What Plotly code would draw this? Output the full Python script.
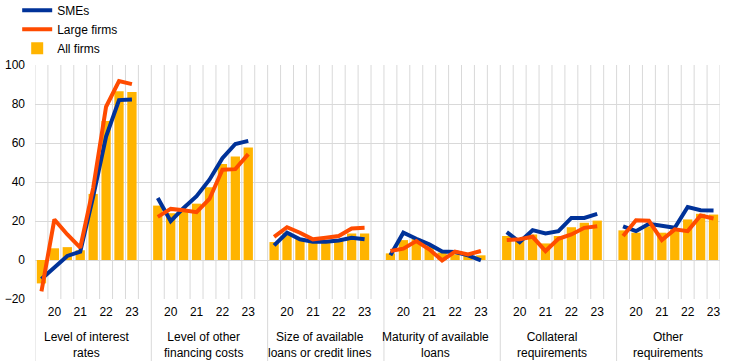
import plotly.graph_objects as go

groups = ["Level of interest<br>rates", "Level of other<br>financing costs",
          "Size of available<br>loans or credit lines", "Maturity of available<br>loans",
          "Collateral<br>requirements", "Other<br>requirements"]
year_labels = ["20", "21", "22", "23"]

all_firms = [
    [-12, 6.0, 6.6, 5.0, 33.9, 71.3, 86.6, 86.1],
    [27.9, 24.0, 25.0, 28.9, 37.3, 49.2, 53.1, 57.7],
    [9.2, 14.0, 10.9, 9.7, 9.7, 10.6, 13.6, 13.6],
    [3.4, 10.2, 10.9, 7.1, 3.8, 2.9, 2.4, 2.4],
    [12.3, 10.6, 13.1, 8.5, 12.3, 16.8, 19.1, 20.2],
    [15.2, 14.0, 17.3, 14.0, 15.7, 20.8, 23.7, 23.3],
]
smes = [
    [-9.8, -3.9, 2.1, 4.3, 32.6, 63.3, 82.0, 82.3],
    [31.8, 19.9, 26.7, 32.7, 41.2, 52.2, 59.5, 61.1],
    [7.5, 14.0, 10.6, 9.4, 9.4, 10.0, 11.4, 10.6],
    [2.4, 14.0, 10.9, 8.0, 4.3, 4.1, 2.4, -0.2],
    [14.3, 9.2, 15.3, 13.6, 14.8, 21.6, 21.6, 23.7],
    [17.3, 14.8, 18.6, 17.3, 16.5, 27.2, 25.5, 25.4],
]
large = [
    [-16.1, 20.8, 13.1, 6.3, 36.9, 78.6, 91.8, 90.2],
    [22.1, 26.2, 25.5, 24.5, 31.3, 46.3, 46.6, 54.3],
    [11.9, 16.8, 14.0, 10.6, 11.4, 12.3, 16.2, 16.5],
    [4.6, 5.8, 9.7, 5.5, -0.2, 4.3, 2.9, 4.6],
    [10.2, 10.6, 11.9, 4.6, 10.9, 13.1, 16.5, 17.3],
    [12.3, 20.4, 20.1, 10.2, 15.7, 14.8, 22.8, 21.3],
]

BLUE = "#003299"
ORANGE = "#ff4b00"
YELLOW = "#ffb400"
GRID = "#d9d9d9"
FONT = "Liberation Sans, Arial, sans-serif"

n = 8
step = n + 1

bx, by = [], []
lx, ls, ll = [], [], []
for g in range(len(groups)):
    for i in range(n):
        bx.append(g * step + i)
        by.append(all_firms[g][i])
        lx.append(g * step + i)
        ls.append(smes[g][i])
        ll.append(large[g][i])
    lx.append(g * step + n)
    ls.append(None)
    ll.append(None)

fig = go.Figure()
fig.add_trace(go.Bar(x=bx, y=by, name="All firms", marker_color=YELLOW,
                     marker_line_width=0, legendrank=3))
fig.add_trace(go.Scatter(x=lx, y=ls, name="SMEs", mode="lines",
                         line=dict(color=BLUE, width=4), connectgaps=False, legendrank=1))
fig.add_trace(go.Scatter(x=lx, y=ll, name="Large firms", mode="lines",
                         line=dict(color=ORANGE, width=4), connectgaps=False, legendrank=2))

tickvals, ticktext = [], []
for g in range(len(groups)):
    for k, lab in enumerate(year_labels):
        tickvals.append(g * step + 1 + 2 * k)
        ticktext.append(lab)

shapes = []
total_slots = len(groups) * step - 1
for k in range(total_slots + 1):
    xv = k - 0.5
    shapes.append(dict(type="line", xref="x", yref="paper", x0=xv, x1=xv, y0=0, y1=1,
                       line=dict(color=GRID, width=1), layer="below"))
for g in range(len(groups) + 1):
    xv = g * step - 0.5
    shapes.append(dict(type="line", xref="x", yref="paper", x0=xv, x1=xv, y0=-0.3, y1=0,
                       line=dict(color=GRID, width=1), layer="below"))

annotations = []
for g, name in enumerate(groups):
    annotations.append(dict(x=g * step + 3.5, y=-0.197, xref="x", yref="paper",
                            text=name, showarrow=False, xanchor="center", yanchor="middle",
                            font=dict(size=12, color="#000000", family=FONT)))

fig.update_layout(
    width=744, height=361,
    margin=dict(l=35, r=24, t=65, b=62, autoexpand=False),
    paper_bgcolor="white", plot_bgcolor="white",
    font=dict(family=FONT, size=12, color="#000000"),
    bargap=0.28,
    showlegend=True,
    legend=dict(x=-0.026, y=1.296, xanchor="left", yanchor="top",
                bgcolor="rgba(0,0,0,0)", font=dict(size=12), tracegroupgap=0,
                borderwidth=0),
    xaxis=dict(range=[-0.5, 52.5], tickvals=tickvals, ticktext=ticktext,
               showgrid=False, zeroline=False, ticks="", ticklabelstandoff=4,
               tickfont=dict(size=12)),
    yaxis=dict(range=[-20, 100], dtick=20, tick0=0, showgrid=True, gridcolor=GRID,
               gridwidth=1, zeroline=False, ticks="", ticklabelstandoff=9,
               tickfont=dict(size=12)),
    shapes=shapes,
    annotations=annotations,
)

# remove the browser's default 8px body margin so the figure sits at the page origin
fig.write_html("out.html", config={"displayModeBar": False},
               post_script="document.body.style.margin='0';")
